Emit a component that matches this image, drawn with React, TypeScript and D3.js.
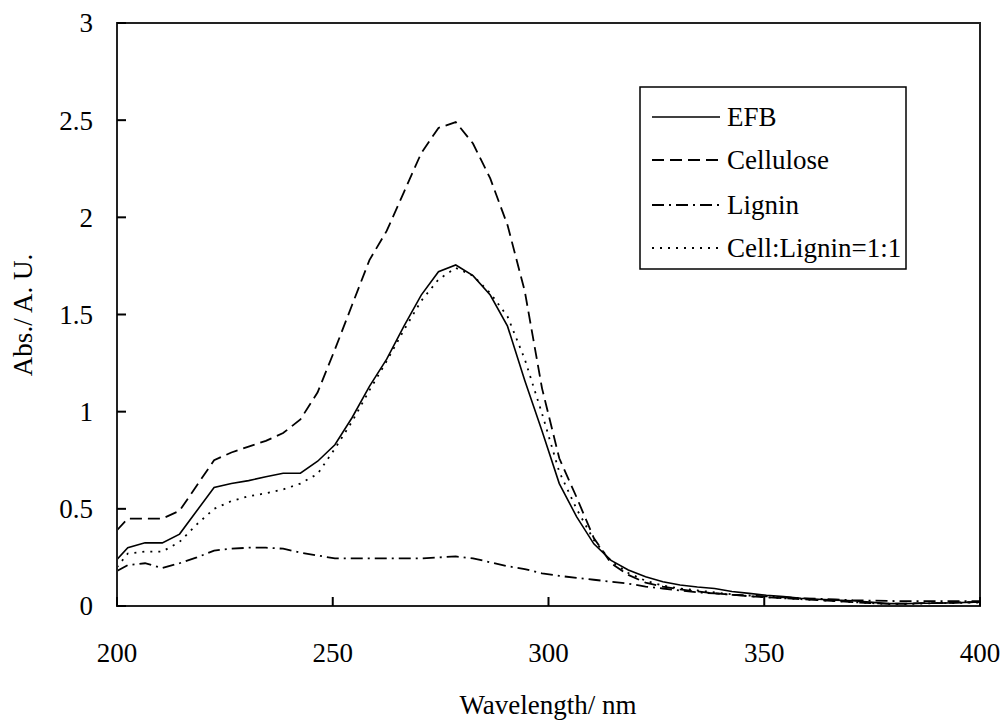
import React from "react";
import * as d3 from "d3";

const wavelengths = [200, 202.5, 206.5, 210.5, 214.5, 218.5, 222.5, 226.5, 230.5, 234.5, 238.5, 242.5, 246.5, 250.5, 254.5, 258.5, 262.5, 266.5, 270.5, 274.5, 278.5, 282.5, 286.5, 290.5, 294.5, 298.5, 302.5, 306.5, 310.5, 314.5, 318.5, 322.5, 326.5, 330.5, 334.5, 338.5, 342.5, 346.5, 350.5, 354.5, 358.5, 362.5, 366.5, 370.5, 374.5, 378.5, 382.5, 386.5, 390.5, 394.5, 398.5, 400];

const efb = [0.24, 0.30, 0.325, 0.325, 0.37, 0.49, 0.61, 0.63, 0.645, 0.665, 0.683, 0.683, 0.745, 0.83, 0.97, 1.13, 1.27, 1.44, 1.60, 1.72, 1.755, 1.70, 1.60, 1.44, 1.16, 0.90, 0.63, 0.46, 0.32, 0.235, 0.185, 0.15, 0.125, 0.108, 0.098, 0.09, 0.075, 0.065, 0.055, 0.048, 0.04, 0.035, 0.03, 0.027, 0.02, 0.012, 0.012, 0.014, 0.015, 0.017, 0.02, 0.02];

const cellulose = [0.39, 0.45, 0.45, 0.45, 0.49, 0.62, 0.75, 0.79, 0.82, 0.85, 0.89, 0.96, 1.10, 1.32, 1.55, 1.78, 1.93, 2.13, 2.33, 2.46, 2.49, 2.38, 2.20, 1.96, 1.62, 1.12, 0.76, 0.56, 0.35, 0.22, 0.16, 0.12, 0.10, 0.085, 0.075, 0.065, 0.058, 0.05, 0.045, 0.04, 0.035, 0.03, 0.025, 0.02, 0.015, 0.012, 0.012, 0.015, 0.015, 0.018, 0.02, 0.02];

const lignin = [0.18, 0.21, 0.22, 0.195, 0.22, 0.25, 0.285, 0.295, 0.30, 0.30, 0.295, 0.275, 0.26, 0.245, 0.245, 0.245, 0.245, 0.245, 0.245, 0.25, 0.255, 0.245, 0.225, 0.205, 0.19, 0.168, 0.155, 0.145, 0.135, 0.125, 0.115, 0.10, 0.09, 0.08, 0.07, 0.065, 0.058, 0.054, 0.05, 0.045, 0.04, 0.037, 0.034, 0.03, 0.028, 0.026, 0.025, 0.025, 0.025, 0.025, 0.025, 0.025];

const cellLignin = [0.20, 0.27, 0.28, 0.28, 0.33, 0.42, 0.50, 0.54, 0.565, 0.58, 0.60, 0.63, 0.68, 0.81, 0.95, 1.11, 1.26, 1.42, 1.57, 1.68, 1.74, 1.70, 1.61, 1.49, 1.27, 0.99, 0.69, 0.50, 0.34, 0.23, 0.17, 0.13, 0.105, 0.09, 0.08, 0.07, 0.06, 0.05, 0.045, 0.04, 0.035, 0.03, 0.025, 0.02, 0.015, 0.01, 0.01, 0.012, 0.015, 0.015, 0.018, 0.018];

const seriesNames = ["EFB", "Cellulose", "Lignin", "Cell:Lignin=1:1"];
const seriesValues = [efb, cellulose, lignin, cellLignin];
const seriesDash = ["none", "12,6", "12,5,2,5", "2,6"];

const xTicks = [200, 250, 300, 350, 400];
const yTicks = [0, 0.5, 1, 1.5, 2, 2.5, 3];

const FONT = "'Liberation Serif', 'Times New Roman', serif";
const FS = 27;

export default function App() {
  const W = 1008;
  const H = 726;
  const left = 117, right = 980, top = 23, bottom = 606;
  const x = d3.scaleLinear().domain([200, 400]).range([left, right]);
  const y = d3.scaleLinear().domain([0, 3]).range([bottom, top]);
  const line = d3
    .line<[number, number]>()
    .x((d) => x(d[0]))
    .y((d) => y(d[1]));

  const legX = 640, legY = 87, legW = 266, legH = 182;
  const rowY = [117, 160, 205, 248];

  return (
    <svg
      width={W}
      height={H}
      style={{ position: "absolute", left: 0, top: 0, background: "#fff" }}
    >
      <defs>
        <clipPath id="plotclip">
          <rect x={left} y={top} width={right - left} height={bottom - top} />
        </clipPath>
      </defs>
      <g clipPath="url(#plotclip)">
        {seriesValues.map((vals, i) => (
          <path
            key={seriesNames[i]}
            d={line(wavelengths.map((w, j) => [w, vals[j]] as [number, number])) || ""}
            fill="none"
            stroke="#000"
            strokeWidth={i === 0 ? 1.6 : 1.8}
            strokeDasharray={seriesDash[i]}
          />
        ))}
      </g>
      <rect
        x={left}
        y={top}
        width={right - left}
        height={bottom - top}
        fill="none"
        stroke="#222"
        strokeWidth={2}
      />
      {yTicks.map((t) => (
        <g key={"y" + t}>
          <line x1={left} x2={left + 9} y1={y(t)} y2={y(t)} stroke="#000" strokeWidth={2} />
          <text
            x={93}
            y={y(t)}
            dy="0.35em"
            textAnchor="end"
            fontFamily={FONT}
            fontSize={FS}
            fill="#000"
          >
            {String(t)}
          </text>
        </g>
      ))}
      {xTicks.map((t) => (
        <g key={"x" + t}>
          <line x1={x(t)} x2={x(t)} y1={bottom} y2={bottom - 9} stroke="#000" strokeWidth={2} />
          <text
            x={x(t)}
            y={662}
            textAnchor="middle"
            fontFamily={FONT}
            fontSize={FS}
            fill="#000"
          >
            {String(t)}
          </text>
        </g>
      ))}
      <text
        x={548}
        y={714}
        textAnchor="middle"
        fontFamily={FONT}
        fontSize={FS}
        fill="#000"
      >
        Wavelength/ nm
      </text>
      <text
        transform={`translate(32,315) rotate(-90)`}
        textAnchor="middle"
        fontFamily={FONT}
        fontSize={FS}
        fill="#000"
      >
        Abs./ A. U.
      </text>
      <rect x={legX} y={legY} width={legW} height={legH} fill="#fff" stroke="#000" strokeWidth={1.5} />
      {seriesNames.map((name, i) => (
        <g key={"leg" + name}>
          <line
            x1={652}
            x2={720}
            y1={rowY[i]}
            y2={rowY[i]}
            stroke="#000"
            strokeWidth={i === 0 ? 1.6 : 1.8}
            strokeDasharray={seriesDash[i]}
          />
          <text
            x={727}
            y={rowY[i]}
            dy="0.35em"
            fontFamily={FONT}
            fontSize={FS}
            fill="#000"
          >
            {name}
          </text>
        </g>
      ))}
    </svg>
  );
}
